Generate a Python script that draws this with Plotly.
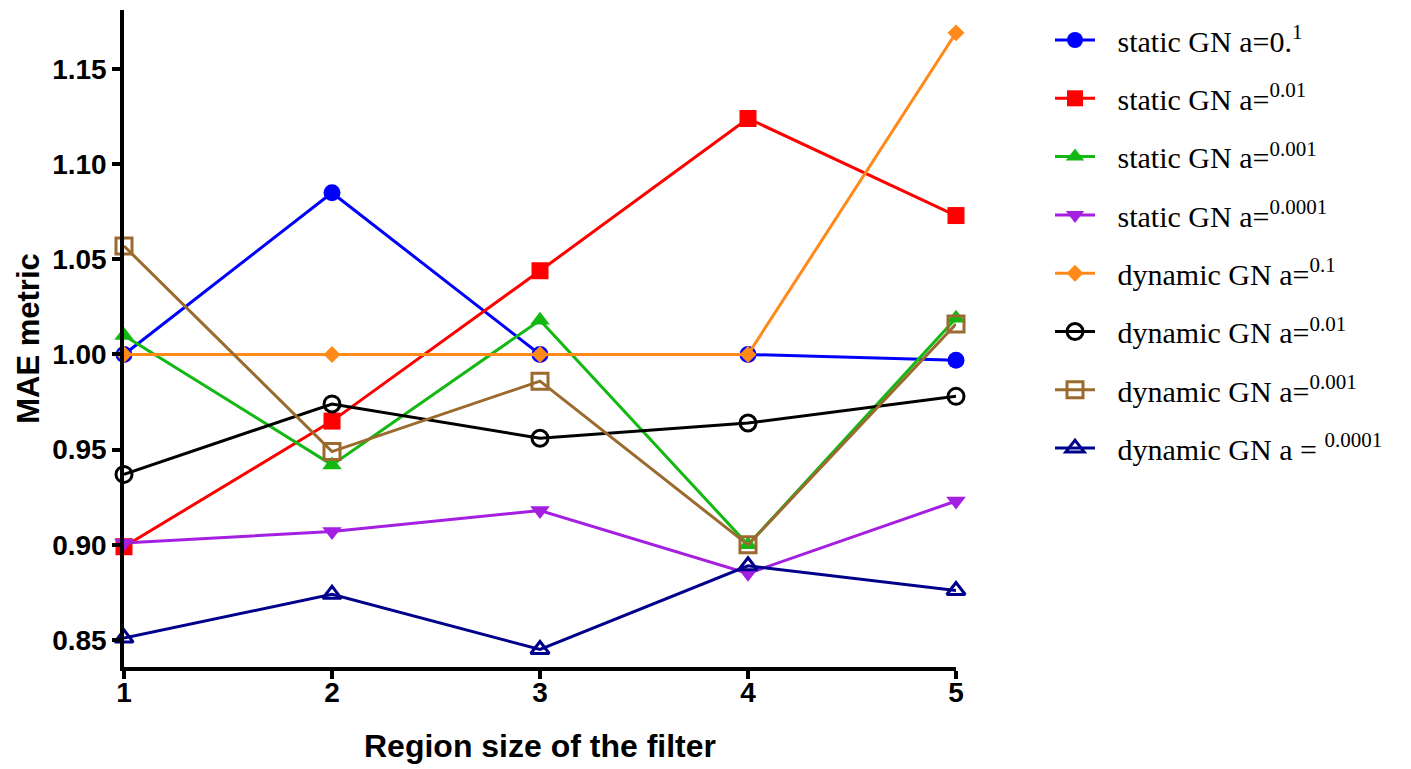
import plotly.graph_objects as go

region_size = [1, 2, 3, 4, 5]

static_01 = [1.000, 1.085, 1.000, 1.000, 0.997]
static_001 = [0.899, 0.965, 1.044, 1.124, 1.073]
static_0001 = [1.010, 0.942, 1.018, 0.900, 1.019]
static_00001 = [0.901, 0.907, 0.918, 0.885, 0.923]
dynamic_01 = [1.000, 1.000, 1.000, 1.000, 1.169]
dynamic_001 = [0.937, 0.974, 0.956, 0.964, 0.978]
dynamic_0001 = [1.057, 0.949, 0.986, 0.900, 1.016]
dynamic_00001 = [0.851, 0.874, 0.845, 0.889, 0.876]

names = [
    "static GN a=0.<sup>1</sup>",
    "static GN a=<sup>0.01</sup>",
    "static GN a=<sup>0.001</sup>",
    "static GN a=<sup>0.0001</sup>",
    "dynamic GN a=<sup>0.1</sup>",
    "dynamic GN a=<sup>0.01</sup>",
    "dynamic GN a=<sup>0.001</sup>",
    "dynamic GN a = <sup>0.0001</sup>",
]
series = [static_01, static_001, static_0001, static_00001,
          dynamic_01, dynamic_001, dynamic_0001, dynamic_00001]
colors = ["#0000FF", "#FF0000", "#13B813", "#A41FE0",
          "#FF8A1A", "#000000", "#9A6A2E", "#00008B"]
symbols = ["circle", "square", "triangle-up", "triangle-down",
           "diamond", "circle-open", "square-open", "triangle-up-open"]
sizes = [17, 17, 17, 17, 13, 16, 16, 16]

pad = "\u00a0\u00a0\u200a"

fig = go.Figure()
for i, (nm, ys) in enumerate(zip(names, series)):
    fig.add_trace(go.Scatter(
        x=region_size, y=ys, name=pad + nm, mode="lines+markers",
        legendgroup=f"g{i}",
        line=dict(color=colors[i], width=3),
        marker=dict(symbol=symbols[i], size=sizes[i], color=colors[i],
                    line=dict(color=colors[i], width=3 if "open" in symbols[i] else 0)),
        cliponaxis=False,
    ))

fig.update_layout(
    width=1411, height=769,
    margin=dict(l=124, r=455, t=10, b=102, autoexpand=False),
    plot_bgcolor="white", paper_bgcolor="white",
    font=dict(family="Liberation Sans", color="black"),
    showlegend=True,
    legend=dict(
        xref="container", yref="container",
        x=1050 / 1411, y=1 - 14 / 769, xanchor="left", yanchor="top",
        font=dict(family="Liberation Serif", size=30, color="black"),
        tracegroupgap=16.3, itemwidth=40, bgcolor="rgba(0,0,0,0)",
        maxheight=1.0,
    ),
    xaxis=dict(
        range=[1, 5], tickvals=region_size, ticktext=[str(v) for v in region_size],
        automargin=False,
        showgrid=False, zeroline=False, showline=True, linecolor="black", linewidth=3.5,
        ticks="outside", ticklen=8, tickwidth=3.5, tickcolor="black",
        ticklabelstandoff=-10,
        tickfont=dict(family="Liberation Sans", size=28, color="black", weight="bold"),
        title=dict(text="<b>Region size of the filter</b>", standoff=28,
                   font=dict(family="Liberation Sans", size=32, color="black")),
    ),
    yaxis=dict(
        range=[0.8358, 1.181], tickvals=[0.85, 0.90, 0.95, 1.00, 1.05, 1.10, 1.15],
        tickformat=".2f", automargin=False,
        showgrid=False, zeroline=False, showline=True, linecolor="black", linewidth=3.5,
        ticks="outside", ticklen=8, tickwidth=3.5, tickcolor="black",
        tickfont=dict(family="Liberation Sans", size=28, color="black", weight="bold"),
        title=dict(text="<b>MAE metric</b>", standoff=4,
                   font=dict(family="Liberation Sans", size=31, color="black")),
    ),
)

fig.write_html("out.html")
